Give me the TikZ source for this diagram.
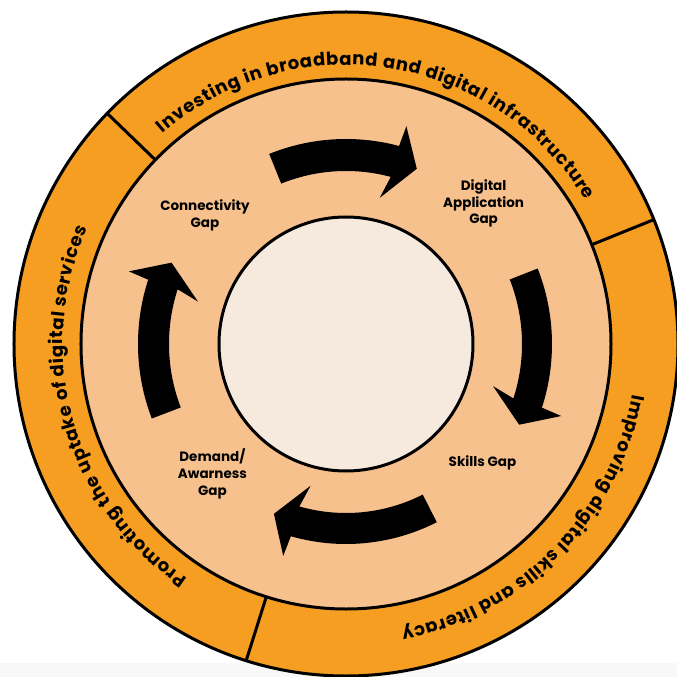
\documentclass[tikz,border=0pt]{standalone}
\usepackage{fontspec}
\setmainfont{Poppins}
\usetikzlibrary{decorations.text}
\definecolor{ringorange}{RGB}{245,158,34}
\definecolor{ringpeach}{RGB}{247,193,141}
\definecolor{corecream}{RGB}{246,234,223}
\definecolor{paleback}{RGB}{248,248,248}
\newcommand\ringfont{\fontsize{18}{20}\selectfont\bfseries}
\tikzset{
  gap label/.style={font=\bfseries\fontsize{13.5}{16.9}\selectfont, align=center},
  ring text/.style={decorate, decoration={text along path, text align=fit to path, text={|\ringfont|#1}}},
}
\begin{document}
\begin{tikzpicture}[x=1pt, y=1pt, line width=3pt]
  \useasboundingbox (-346,-333) rectangle (331,344);
  \fill [paleback] (-346,-333) rectangle (331,-319);
  \draw [fill=ringorange] (0,0) circle (332);
  \draw [fill=ringpeach] (0,0) circle (265);
  \foreach \a in {22,136,252.5}
    \draw (\a:265) -- (\a:332);
  \draw [fill=corecream] (0,0) circle (127);
  \foreach \t/\p/\ri/\ro in {112/68/173/205, 21.5/-25/176/206, -63/-113/169/200, 201/155/177/208}
    \fill (\t:\ro) arc[start angle=\t, end angle=\p+7, radius=\ro]
      -- ({\p+6.5}:{\ro+21}) -- (\p:{(\ri+\ro)/2}) -- ({\p+9}:{\ri-23})
      -- ({\p+7}:\ri) arc[start angle=\p+7, end angle=\t, radius=\ri] -- cycle;
  \node [gap label] (connectivity) at (-141,128.5) {Connectivity\\Gap};
  \node [gap label] (application) at (137.6,140.6) {Digital\\Application\\Gap};
  \node [gap label] (skills) at (136.5,-119.3) {Skills Gap};
  \node [gap label] (demand) at (-133.6,-130) {Demand/\\Awarness\\Gap};
  \path [ring text={Investing in broadband and digital infrastructure}]
    (131:279) arc[start angle=131, end angle=31, radius=279];
  \path [ring text={Improving digital skills and literacy}]
    (-10:291) arc[start angle=-10, end angle=-79, radius=291];
  \path [ring text={Promoting the uptake of digital services}]
    (236:283) arc[start angle=236, end angle=156, radius=283];
\end{tikzpicture}
\end{document}
